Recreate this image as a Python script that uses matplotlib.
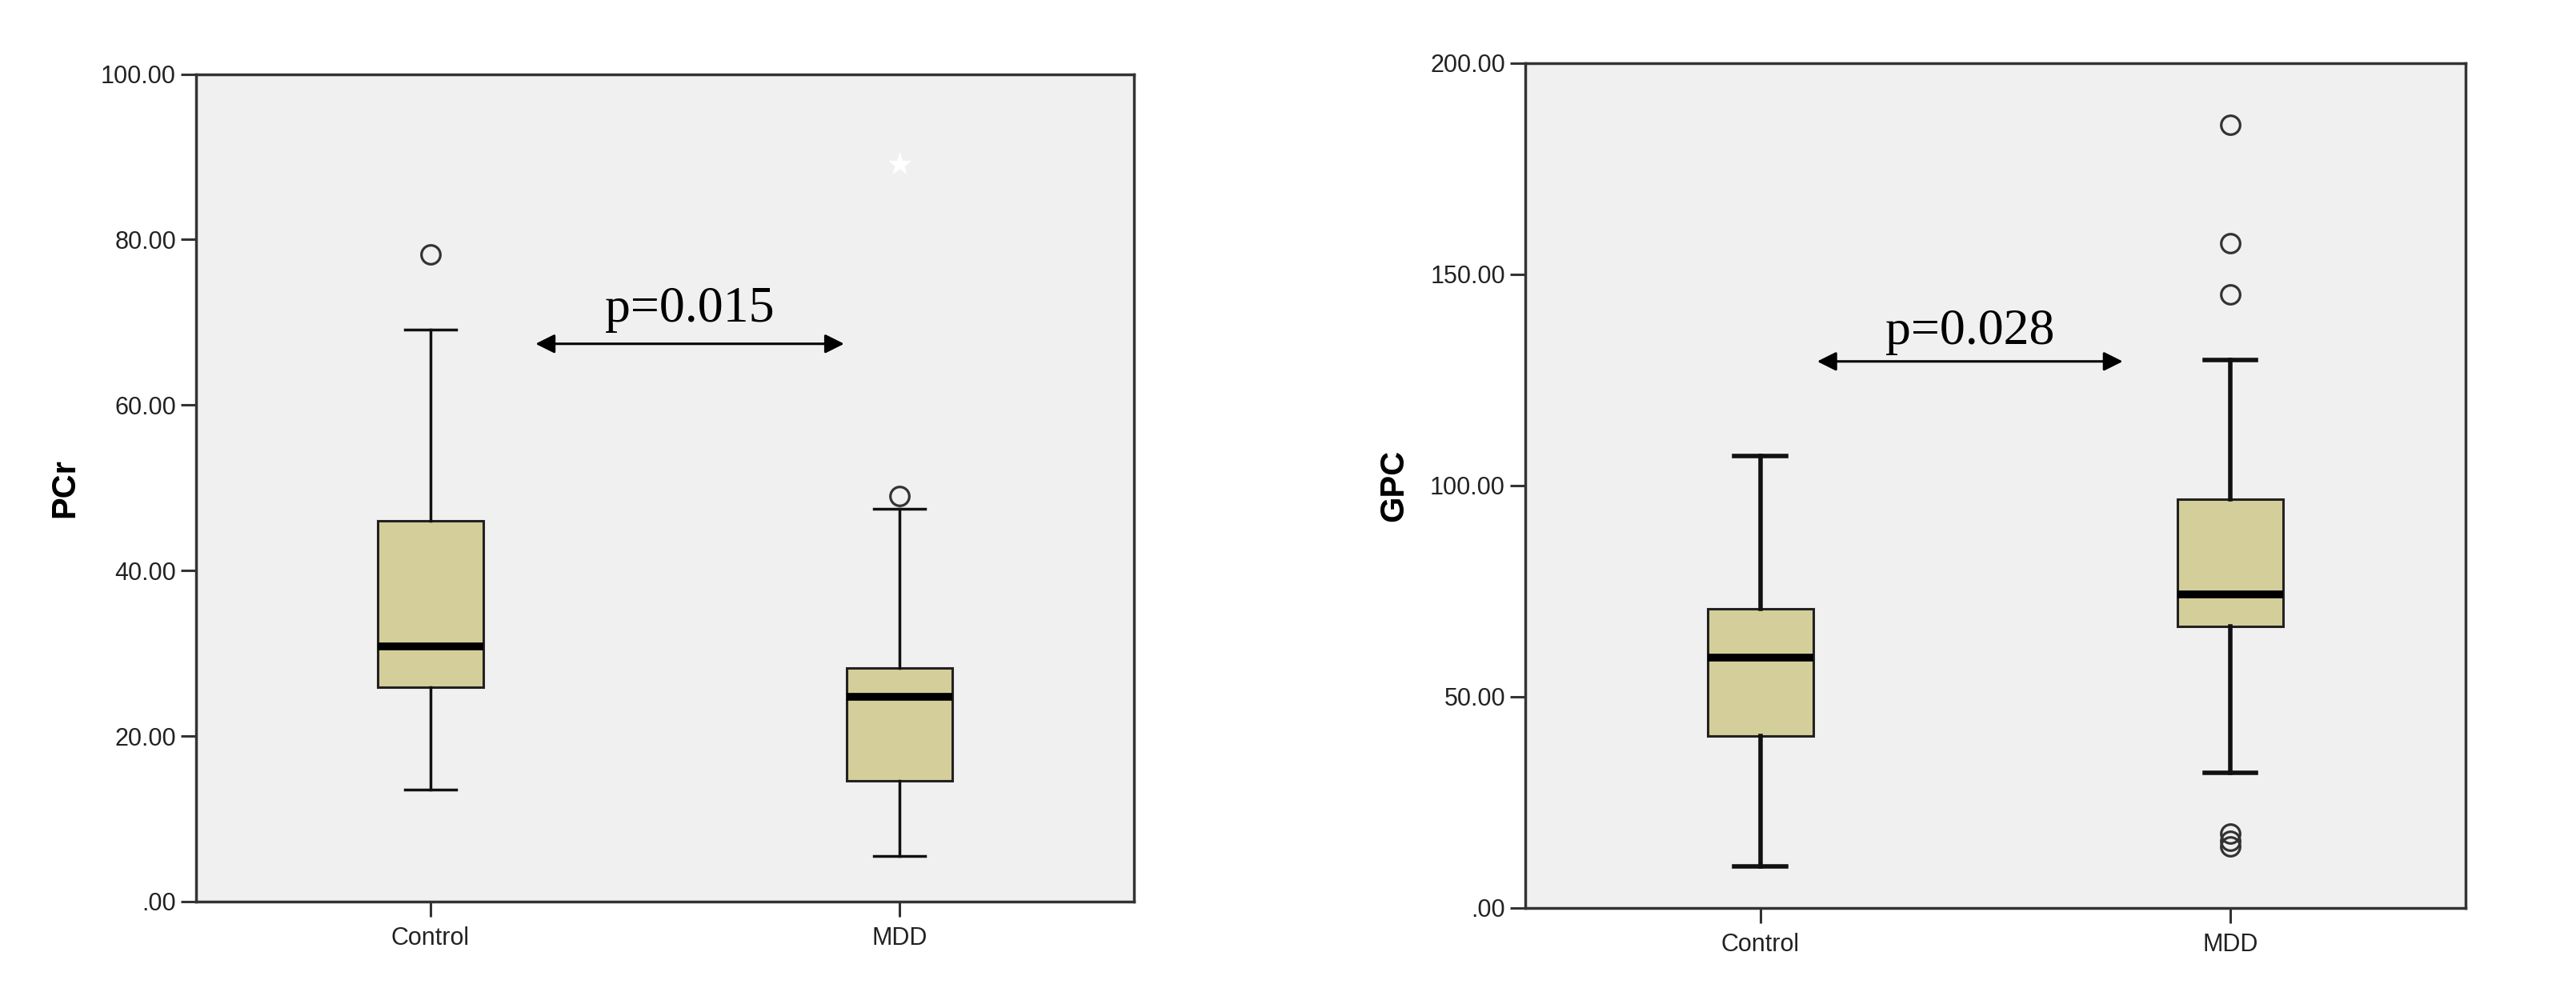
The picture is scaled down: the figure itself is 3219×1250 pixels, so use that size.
import matplotlib
matplotlib.use("Agg")
import matplotlib.pyplot as plt

groups = ["Control", "MDD"]

# PCr panel
pcr_q1 = [25.9, 14.6]
pcr_med = [30.8, 24.7]
pcr_q3 = [46.0, 28.2]
pcr_lo = [13.5, 5.5]
pcr_hi = [69.1, 47.5]
pcr_outliers = [[78.2], [49.0]]
pcr_extremes = [[], [89.1]]
pcr_ticks = [0, 20, 40, 60, 80, 100]
pcr_ticklabels = [".00", "20.00", "40.00", "60.00", "80.00", "100.00"]

# GPC panel
gpc_q1 = [40.7, 66.6]
gpc_med = [59.2, 74.2]
gpc_q3 = [70.9, 96.8]
gpc_lo = [9.9, 32.0]
gpc_hi = [107.1, 129.8]
gpc_outliers = [[], [185.4, 157.3, 145.3, 17.6, 16.0, 14.6]]
gpc_extremes = [[], []]
gpc_ticks = [0, 50, 100, 150, 200]
gpc_ticklabels = [".00", "50.00", "100.00", "150.00", "200.00"]

BOX = "#D4CF9A"
BG = "#F0F0F0"

fig = plt.figure(figsize=(32.19, 12.5), dpi=100)
fig.patch.set_facecolor("white")

def panel(rect, q1, med, q3, lo, hi, outl, extr, ticks, tlabels, ylabel, ymax,
          ptext, arrow_x, arrow_y, text_y, wlw):
    ax = fig.add_axes(rect)
    ax.set_facecolor(BG)
    stats = []
    for i in range(len(groups)):
        stats.append(dict(med=med[i], q1=q1[i], q3=q3[i], whislo=lo[i],
                          whishi=hi[i], fliers=outl[i], label=groups[i]))
    ax.bxp(stats, positions=[1, 2], widths=0.224, patch_artist=True,
           showfliers=True,
           boxprops=dict(facecolor=BOX, edgecolor="#222222", linewidth=2.2),
           medianprops=dict(color="black", linewidth=7, solid_capstyle="butt"),
           whiskerprops=dict(color="#111111", linewidth=wlw),
           capprops=dict(color="#111111", linewidth=wlw),
           capwidths=0.11,
           flierprops=dict(marker="o", markerfacecolor="none",
                           markeredgecolor="#333333", markersize=17,
                           markeredgewidth=2.3, linestyle="none"))
    for i, ex in enumerate(extr):
        if ex:
            ax.plot([i + 1] * len(ex), ex, linestyle="none", marker="*",
                    color="white", markersize=20)
    ax.set_xlim(0.5, 2.5)
    ax.set_ylim(0, ymax)
    ax.set_yticks(ticks)
    ax.set_yticklabels(tlabels, fontsize=22, family="Liberation Sans",
                       color="#222222")
    ax.set_xticks([1, 2])
    ax.set_xticklabels(groups, fontsize=22, family="Liberation Sans",
                       color="#222222")
    ax.tick_params(axis="both", direction="out", length=14, width=2.2,
                   color="#333333", pad=4)
    ax.tick_params(axis="x", pad=8)
    ax.set_ylabel(ylabel, fontsize=30, fontweight="bold",
                  family="Liberation Sans", labelpad=18)
    for s in ax.spines.values():
        s.set_linewidth(2.5)
        s.set_color("#333333")
    ax.annotate("", xy=(arrow_x[0], arrow_y), xytext=(arrow_x[1], arrow_y),
                arrowprops=dict(arrowstyle="<|-|>", color="black", lw=2.2,
                                mutation_scale=36, shrinkA=0, shrinkB=0))
    ax.text((arrow_x[0] + arrow_x[1]) / 2, text_y, ptext, fontsize=46,
            family="Liberation Serif", ha="center", va="baseline",
            color="black")
    return ax

panel([0.0761, 0.0984, 0.3641, 0.8276], pcr_q1, pcr_med, pcr_q3, pcr_lo,
      pcr_hi, pcr_outliers, pcr_extremes, pcr_ticks, pcr_ticklabels, "PCr",
      100, "p=0.015", (1.224, 1.882), 67.4, 70.1, 2.5)

panel([0.5921, 0.0920, 0.3650, 0.8448], gpc_q1, gpc_med, gpc_q3, gpc_lo,
      gpc_hi, gpc_outliers, gpc_extremes, gpc_ticks, gpc_ticklabels, "GPC",
      200, "p=0.028", (1.121, 1.771), 129.4, 133.5, 4.0)

fig.savefig("out.png", dpi=100, facecolor="white")
